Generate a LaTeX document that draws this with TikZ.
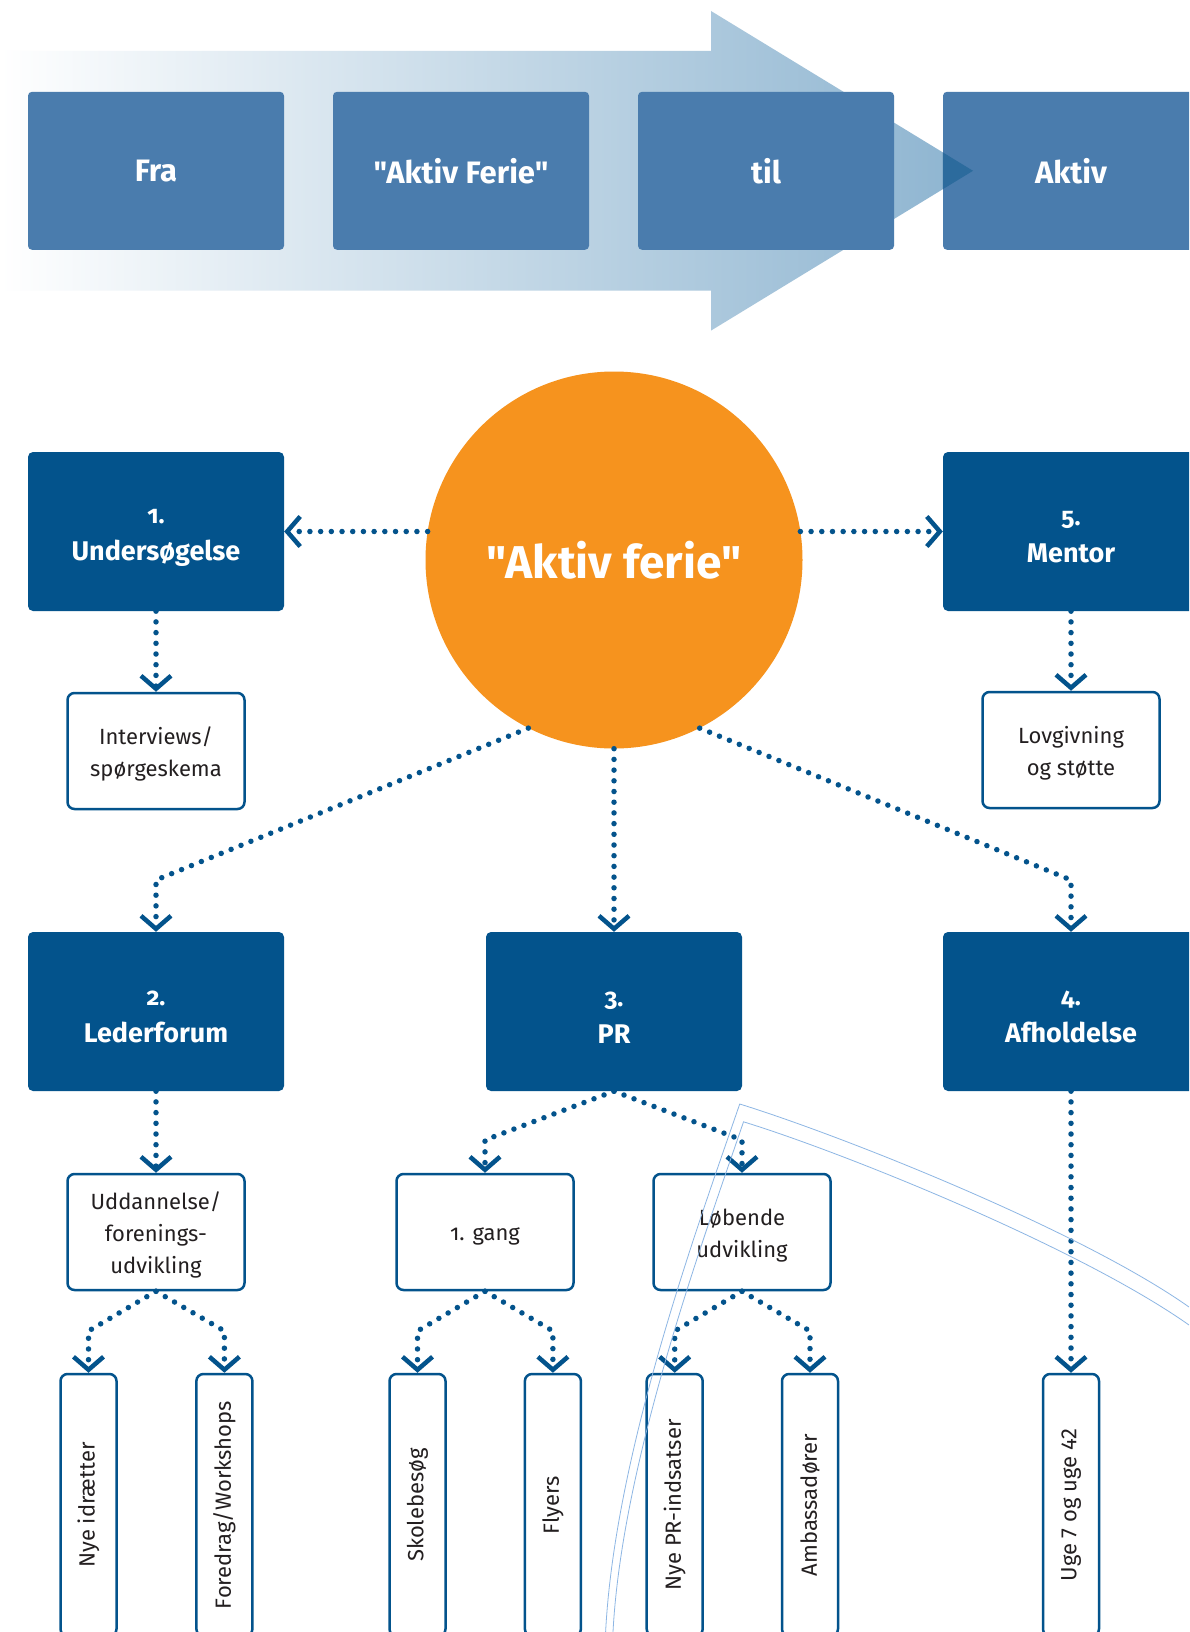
\documentclass[tikz,border=0pt]{standalone}
\usepackage{fontspec}
\setmainfont{Fira Sans}[Ligatures=TeXOff]
\newfontfamily\osf{Fira Sans}[Numbers=OldStyle,Ligatures=TeXOff]
\usetikzlibrary{arrows.meta}
\definecolor{dkblue}{HTML}{03538C}
\definecolor{midblue}{HTML}{4A7CAD}
\definecolor{arrowblue}{HTML}{8DB4D0}
\definecolor{tipblue}{HTML}{2C6B9D}
\definecolor{orng}{HTML}{F6931E}
\definecolor{txtgray}{HTML}{231F20}
\definecolor{ghost}{HTML}{8DB6E4}
\begin{document}
\begin{tikzpicture}[x=1pt,y=-1pt,
  topbox/.style={fill=midblue, rounded corners=4pt, minimum width=256pt, minimum height=158pt, inner sep=0pt, text=white, font=\fontsize{31}{36}\selectfont\bfseries},
  mainbox/.style={fill=dkblue, rounded corners=5pt, minimum width=256pt, minimum height=159pt, inner sep=0pt, text=white, align=center, font=\fontsize{27}{37}\selectfont\bfseries},
  subbox/.style={draw=dkblue, line width=2.5pt, fill=white, rounded corners=7pt, minimum width=177pt, minimum height=116pt, inner sep=0pt, text=txtgray, align=center, font=\fontsize{22}{32}\selectfont},
  leafbox/.style={draw=dkblue, line width=2.5pt, fill=white, rounded corners=7pt, minimum width=56pt, minimum height=262pt, inner sep=0pt},
  leaftext/.style={rotate=90, text=txtgray, inner sep=0pt, font=\fontsize{22}{26}\selectfont},
  conn/.style={draw=dkblue, line width=5.5pt, line cap=round, dash pattern=on 0pt off 10.7pt, -{Straight Barb[sharp,length=13pt,width=30pt,line width=4.5pt]}},
  ghostline/.style={draw=ghost, line width=0.8pt},
]
\useasboundingbox (0,0) rectangle (1189,1632);
\clip (0,0) rectangle (1189,1632);
\fill[white] (0,0) rectangle (1189,1632);

% top arrow
\shade[left color=white, right color=arrowblue] (0,51) -- (711,51) -- (711,11) -- (973,170.8) -- (711,330.6) -- (711,290.6) -- (0,290.6) -- cycle;

\node[topbox] (fra) at (156,170.8) {Fra};
\node[topbox] (aktf) at (461,170.8) {"Aktiv Ferie"};
\node[topbox] (til) at (766,170.8) {til};
\node[topbox] (akt) at (1071,170.8) {};
\begin{scope}
  \clip (akt.south west) rectangle (akt.north east);
  \fill[tipblue] (711,11) -- (973,170.8) -- (711,330.6) -- cycle;
\end{scope}
\node[text=white, font=\fontsize{31}{36}\selectfont\bfseries] (akttxt) at (akt) {Aktiv};

% central circle
\node[circle, fill=orng, minimum size=377pt, inner sep=0pt, text=white, font=\fontsize{46}{50}\selectfont\bfseries] (circ) at (614,560) {"Aktiv ferie"};

% main boxes
\node[mainbox] (box1) at (156,531.5) {{\fontsize{25}{37}\selectfont\osf 1.}\rule{0pt}{26pt}\\Undersøgelse};
\node[mainbox] (box5) at (1071,531.5) {{\fontsize{25}{37}\selectfont\osf 5.}\rule{0pt}{26pt}\\Mentor};
\node[mainbox] (box2) at (156,1011.5) {{\fontsize{25}{37}\selectfont\osf 2.}\rule{0pt}{26pt}\\Lederforum};
\node[mainbox] (box3) at (614,1011.5) {{\fontsize{25}{37}\selectfont\osf 3.}\rule{0pt}{26pt}\\PR};
\node[mainbox] (box4) at (1071,1011.5) {{\fontsize{25}{37}\selectfont\osf 4.}\rule{0pt}{26pt}\\Afholdelse};

% sub boxes
\node[subbox] (interv) at (156,751) {\rule{0pt}{24pt}Interviews/\\spørgeskema};
\node[subbox] (lov) at (1071,750) {\rule{0pt}{24pt}Lovgivning\\og støtte};
\node[subbox] (uddan) at (156,1232) {\rule{0pt}{24pt}Uddannelse/\\forenings-\\udvikling};
\node[subbox] (gang) at (485,1232) {\rule{0pt}{22pt}{\osf 1.} gang};
\node[subbox] (lob) at (742,1232) {\rule{0pt}{24pt}Løbende\\udvikling};

% leaf boxes
\node[leafbox] (leaf1) at (88.5,1505) {};
\node[leafbox] (leaf2) at (224.4,1505) {};
\node[leafbox] (leaf3) at (417.5,1505) {};
\node[leafbox] (leaf4) at (552.9,1505) {};
\node[leafbox] (leaf5) at (674.7,1505) {};
\node[leafbox] (leaf6) at (810,1505) {};
\node[leafbox] (leaf7) at (1071,1505) {};
\node[leaftext] (t1) at (leaf1) {Nye idrætter};
\node[leaftext] (t2) at (leaf2) {Foredrag/Workshops};
\node[leaftext] (t3) at (leaf3) {Skolebesøg};
\node[leaftext] (t4) at (leaf4) {Flyers};
\node[leaftext] (t5) at (leaf5) {Nye PR-indsatser};
\node[leaftext] (t6) at (leaf6) {Ambassadører};
\node[leaftext] (t7) at (leaf7) {Uge 7 og uge 42};

% bend coordinates
\coordinate (b2) at (156,880);
\coordinate (b4) at (1071,880);
\coordinate (b31) at (485,1140);
\coordinate (b32) at (742,1140);
\coordinate (bl1) at (88.5,1331);
\coordinate (bl2) at (224.4,1331);
\coordinate (bl3) at (417.5,1331);
\coordinate (bl4) at (552.9,1331);
\coordinate (bl5) at (674.7,1331);
\coordinate (bl6) at (810,1331);

% connectors
\draw[conn] (box1.east -| circ.171) -- (box1.east);
\draw[conn] (box5.west -| circ.9) -- (box5.west);
\draw[conn] (box1.south) -- (interv.north);
\draw[conn] (box5.south) -- (lov.north);
\draw[conn] (circ.243) -- (b2) -- (box2.north);
\draw[conn] (circ.south) -- (box3.north);
\draw[conn] (circ.297) -- (b4) -- (box4.north);
\draw[conn] (box2.south) -- (uddan.north);
\draw[conn] (box3.south) -- (b31) -- (gang.north);
\draw[conn] (box3.south) -- (b32) -- (lob.north);
\draw[conn] (box4.south) -- (leaf7.north);
\draw[conn] (uddan.south) -- (bl1) -- (leaf1.north);
\draw[conn] (uddan.south) -- (bl2) -- (leaf2.north);
\draw[conn] (gang.south) -- (bl3) -- (leaf3.north);
\draw[conn] (gang.south) -- (bl4) -- (leaf4.north);
\draw[conn] (lob.south) -- (bl5) -- (leaf5.north);
\draw[conn] (lob.south) -- (bl6) -- (leaf6.north);

% faint double curve
\draw[ghostline] (605.6,1632) .. controls (615,1450) and (700,1220) .. (739.7,1104) .. controls (840,1135) and (1080,1230) .. (1189,1307);
\draw[ghostline] (613,1632) .. controls (622,1460) and (705,1235) .. (743.5,1121.8) .. controls (845,1153) and (1080,1248) .. (1189,1325);
\end{tikzpicture}
\end{document}
